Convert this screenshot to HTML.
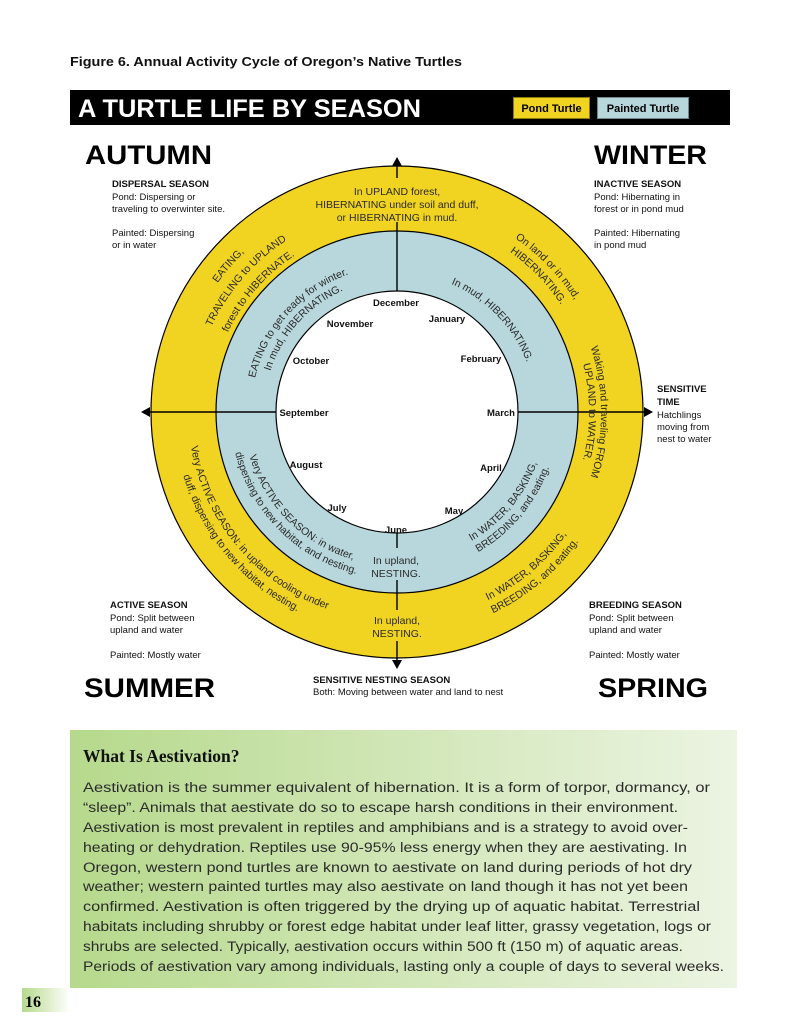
<!DOCTYPE html>
<html><head><meta charset="utf-8"><style>
html,body{margin:0;padding:0;background:#fff;}
svg{display:block;}
text{font-family:"Liberation Sans",sans-serif;}
.m{font-size:9.5px;font-weight:bold;fill:#111;}
.i{font-size:9.5px;fill:#111;}
.ib{font-size:9.5px;fill:#111;font-weight:bold;}
.r{font-size:10.5px;fill:#2a2a2a;}
.p{font-size:13.5px;fill:#2b2b2b;}
.big{font-size:27px;font-weight:bold;fill:#000;}
</style></head><body>
<svg width="800" height="1035" viewBox="0 0 800 1035" xmlns="http://www.w3.org/2000/svg">
<defs>
<linearGradient id="g" x1="0" x2="1" y1="0" y2="0"><stop offset="0" stop-color="#b6d98c"/><stop offset="1" stop-color="#ecf4e2"/></linearGradient>
<linearGradient id="g2" x1="0" x2="1" y1="0" y2="0"><stop offset="0" stop-color="#b6d98c"/><stop offset="1" stop-color="#ffffff"/></linearGradient>
<path id="cw221" d="M-191.4,-110.5 A221,221 0 0 1 191.4,-110.5"/>
<path id="cw204" d="M-176.7,-102 A204,204 0 0 1 176.7,-102"/>
<path id="cw187" d="M-161.9,-93.5 A187,187 0 0 1 161.9,-93.5"/>
<path id="cw146" d="M-126.4,-73 A146,146 0 0 1 126.4,-73"/>
<path id="cw133" d="M-115.2,-66.5 A133,133 0 0 1 115.2,-66.5"/>
<path id="cw210" d="M-181.9,-105 A210,210 0 0 1 181.9,-105"/>
<path id="cw196" d="M-169.7,-98 A196,196 0 0 1 169.7,-98"/>
<path id="cw139" d="M-120.4,-69.5 A139,139 0 0 1 120.4,-69.5"/>
<path id="cw192" d="M-166.3,-96 A192,192 0 0 1 166.3,-96"/>
<path id="ccw209" d="M-181,104.5 A209,209 0 0 0 181,104.5"/>
<path id="ccw223" d="M-193.1,111.5 A223,223 0 0 0 193.1,111.5"/>
<path id="ccw154" d="M-133.4,77 A154,154 0 0 0 133.4,77"/>
<path id="ccw167" d="M-144.6,83.5 A167,167 0 0 0 144.6,83.5"/>
<path id="ccw149" d="M-129,74.5 A149,149 0 0 0 129,74.5"/>
<path id="ccw162" d="M-140.3,81 A162,162 0 0 0 140.3,81"/>
</defs>

<text x="70" y="66" font-size="12.5" font-weight="bold" fill="#111" textLength="392" lengthAdjust="spacingAndGlyphs">Figure 6. Annual Activity Cycle of Oregon’s Native Turtles</text>

<rect x="70" y="90" width="660" height="35" fill="#000"/>
<text x="78" y="117" font-size="25" font-weight="bold" fill="#fff" textLength="343" lengthAdjust="spacingAndGlyphs">A TURTLE LIFE BY SEASON</text>
<rect x="513.5" y="97.5" width="76" height="21" fill="#f1d321" stroke="#8a7a10"/>
<text x="551.5" y="112" font-size="11" font-weight="bold" text-anchor="middle" fill="#000">Pond Turtle</text>
<rect x="597.5" y="97.5" width="91" height="21" fill="#b7d7dc" stroke="#6a8a90"/>
<text x="643" y="112" font-size="11" font-weight="bold" text-anchor="middle" fill="#000">Painted Turtle</text>

<text class="big" x="85" y="164" textLength="127" lengthAdjust="spacingAndGlyphs">AUTUMN</text>
<text class="big" x="594" y="164" textLength="113" lengthAdjust="spacingAndGlyphs">WINTER</text>
<text class="big" x="84" y="697" textLength="131" lengthAdjust="spacingAndGlyphs">SUMMER</text>
<text class="big" x="598" y="697" textLength="110" lengthAdjust="spacingAndGlyphs">SPRING</text>

<text class="ib" x="112" y="187">DISPERSAL SEASON</text>
<text class="i" x="112" y="200">Pond: Dispersing or</text>
<text class="i" x="112" y="212">traveling to overwinter site.</text>
<text class="i" x="112" y="236">Painted: Dispersing</text>
<text class="i" x="112" y="248">or in water</text>

<text class="ib" x="594" y="187">INACTIVE SEASON</text>
<text class="i" x="594" y="200">Pond: Hibernating in</text>
<text class="i" x="594" y="212">forest or in pond mud</text>
<text class="i" x="594" y="236">Painted: Hibernating</text>
<text class="i" x="594" y="248">in pond mud</text>

<text class="ib" x="657" y="392">SENSITIVE</text>
<text class="ib" x="657" y="405">TIME</text>
<text class="i" x="657" y="418">Hatchlings</text>
<text class="i" x="657" y="430">moving from</text>
<text class="i" x="657" y="442">nest to water</text>

<text class="ib" x="110" y="608">ACTIVE SEASON</text>
<text class="i" x="110" y="621">Pond: Split between</text>
<text class="i" x="110" y="633">upland and water</text>
<text class="i" x="110" y="658">Painted: Mostly water</text>

<text class="ib" x="589" y="608">BREEDING SEASON</text>
<text class="i" x="589" y="621">Pond: Split between</text>
<text class="i" x="589" y="633">upland and water</text>
<text class="i" x="589" y="658">Painted: Mostly water</text>

<text class="ib" x="313" y="683">SENSITIVE NESTING SEASON</text>
<text class="i" x="313" y="695">Both: Moving between water and land to nest</text>

<!-- rings -->
<circle cx="397" cy="412" r="246" fill="#f1d321" stroke="#000" stroke-width="1.2"/>
<circle cx="397" cy="412" r="181" fill="#b7d7dc" stroke="#000" stroke-width="1.2"/>
<circle cx="397" cy="412" r="121" fill="#fff" stroke="#000" stroke-width="1.2"/>

<!-- axis lines -->
<g stroke="#000" stroke-width="1.4">
<line x1="148" y1="412" x2="276" y2="412"/>
<line x1="518" y1="412" x2="646" y2="412"/>
<line x1="397" y1="164" x2="397" y2="178"/>
<line x1="397" y1="222" x2="397" y2="291"/>
<line x1="397" y1="533" x2="397" y2="548"/>
<line x1="397" y1="580" x2="397" y2="610"/>
<line x1="397" y1="641" x2="397" y2="662"/>
</g>
<polygon points="392,166 402,166 397,157" fill="#000"/>
<polygon points="392,660 402,660 397,669" fill="#000"/>
<polygon points="150,407 150,417 141,412" fill="#000"/>
<polygon points="644,407 644,417 653,412" fill="#000"/>

<!-- straight ring texts -->
<g class="r" text-anchor="middle">
<text class="r" x="397" y="195" text-anchor="middle">In UPLAND forest,</text>
<text class="r" x="397" y="208" text-anchor="middle">HIBERNATING under soil and duff,</text>
<text class="r" x="397" y="221" text-anchor="middle">or HIBERNATING in mud.</text>
<text class="r" x="396" y="564" text-anchor="middle">In upland,</text>
<text class="r" x="396" y="577" text-anchor="middle">NESTING.</text>
<text class="r" x="397" y="624" text-anchor="middle">In upland,</text>
<text class="r" x="397" y="637" text-anchor="middle">NESTING.</text>
</g>

<!-- curved ring texts -->
<g transform="translate(397,412)">
 <g transform="rotate(-49)">
  <text class="r" text-anchor="middle"><textPath href="#cw221" startOffset="50%">EATING,</textPath></text>
  <text class="r" text-anchor="middle"><textPath href="#cw204" startOffset="50%">TRAVELING to UPLAND</textPath></text>
  <text class="r" text-anchor="middle"><textPath href="#cw187" startOffset="50%">forest to HIBERNATE.</textPath></text>
 </g>
 <g transform="rotate(-48)">
  <text class="r" text-anchor="middle"><textPath href="#cw146" startOffset="50%">EATING to get ready for winter.</textPath></text>
  <text class="r" text-anchor="middle"><textPath href="#cw133" startOffset="50%">In mud, HIBERNATING.</textPath></text>
 </g>
 <g transform="rotate(46)">
  <text class="r" text-anchor="middle"><textPath href="#cw210" startOffset="50%">On land or in mud,</textPath></text>
  <text class="r" text-anchor="middle"><textPath href="#cw196" startOffset="50%">HIBERNATING.</textPath></text>
  <text class="r" text-anchor="middle"><textPath href="#cw139" startOffset="50%">In mud, HIBERNATING.</textPath></text>
 </g>
 <g transform="rotate(90)">
  <text class="r" text-anchor="middle"><textPath href="#cw204" startOffset="50%">Waking and traveling FROM</textPath></text>
  <text class="r" text-anchor="middle"><textPath href="#cw192" startOffset="50%">UPLAND to WATER.</textPath></text>
 </g>
 <g transform="rotate(50)">
  <text class="r" text-anchor="middle"><textPath href="#ccw209" startOffset="50%">Very ACTIVE SEASON: in upland cooling under</textPath></text>
  <text class="r" text-anchor="middle"><textPath href="#ccw223" startOffset="50%">duff, dispersing to new habitat, nesting.</textPath></text>
 </g>
 <g transform="rotate(45)">
  <text class="r" text-anchor="middle"><textPath href="#ccw154" startOffset="50%">Very ACTIVE SEASON: in water,</textPath></text>
  <text class="r" text-anchor="middle"><textPath href="#ccw167" startOffset="50%">dispersing to new habitat, and nesting.</textPath></text>
 </g>
 <g transform="rotate(-50)">
  <text class="r" text-anchor="middle"><textPath href="#ccw149" startOffset="50%">In WATER, BASKING,</textPath></text>
  <text class="r" text-anchor="middle"><textPath href="#ccw162" startOffset="50%">BREEDING, and eating.</textPath></text>
 </g>
 <g transform="rotate(-40)">
  <text class="r" text-anchor="middle"><textPath href="#ccw209" startOffset="50%">In WATER, BASKING,</textPath></text>
  <text class="r" text-anchor="middle"><textPath href="#ccw223" startOffset="50%">BREEDING, and eating.</textPath></text>
 </g>
</g>

<!-- months -->
<g text-anchor="middle">
<text class="m" x="396" y="306">December</text>
<text class="m" x="447" y="322">January</text>
<text class="m" x="350" y="327">November</text>
<text class="m" x="481" y="362">February</text>
<text class="m" x="311" y="364">October</text>
<text class="m" x="304" y="416">September</text>
<text class="m" x="501" y="416">March</text>
<text class="m" x="306" y="468">August</text>
<text class="m" x="491" y="471">April</text>
<text class="m" x="337" y="511">July</text>
<text class="m" x="454" y="514">May</text>
<text class="m" x="396" y="533">June</text>
</g>

<!-- aestivation box -->
<rect x="70" y="730" width="667" height="258" fill="url(#g)"/>
<text x="83" y="762" font-family="Liberation Serif, serif" font-size="17.5" font-weight="bold" fill="#111" style="font-family:'Liberation Serif',serif">What Is Aestivation?</text>
<g class="p">
<text class="p" x="83" y="792" textLength="627" lengthAdjust="spacingAndGlyphs">Aestivation is the summer equivalent of hibernation. It is a form of torpor, dormancy, or</text>
<text class="p" x="83" y="812" textLength="595" lengthAdjust="spacingAndGlyphs">“sleep”. Animals that aestivate do so to escape harsh conditions in their environment.</text>
<text class="p" x="83" y="832" textLength="605" lengthAdjust="spacingAndGlyphs">Aestivation is most prevalent in reptiles and amphibians and is a strategy to avoid over-</text>
<text class="p" x="83" y="852" textLength="604" lengthAdjust="spacingAndGlyphs">heating or dehydration. Reptiles use 90-95% less energy when they are aestivating. In</text>
<text class="p" x="83" y="872" textLength="609" lengthAdjust="spacingAndGlyphs">Oregon, western pond turtles are known to aestivate on land during periods of hot dry</text>
<text class="p" x="83" y="891" textLength="605" lengthAdjust="spacingAndGlyphs">weather; western painted turtles may also aestivate on land though it has not yet been</text>
<text class="p" x="83" y="911" textLength="617" lengthAdjust="spacingAndGlyphs">confirmed. Aestivation is often triggered by the drying up of aquatic habitat. Terrestrial</text>
<text class="p" x="83" y="931" textLength="628" lengthAdjust="spacingAndGlyphs">habitats including shrubby or forest edge habitat under leaf litter, grassy vegetation, logs or</text>
<text class="p" x="83" y="951" textLength="600" lengthAdjust="spacingAndGlyphs">shrubs are selected. Typically, aestivation occurs within 500 ft (150 m) of aquatic areas.</text>
<text class="p" x="83" y="971" textLength="641" lengthAdjust="spacingAndGlyphs">Periods of aestivation vary among individuals, lasting only a couple of days to several weeks.</text>
</g>
<rect x="22" y="988" width="48" height="24" fill="url(#g2)"/>
<text x="25" y="1007" font-size="16" font-weight="bold" fill="#000" style="font-family:'Liberation Serif',serif">16</text>
</svg>
</body></html>
